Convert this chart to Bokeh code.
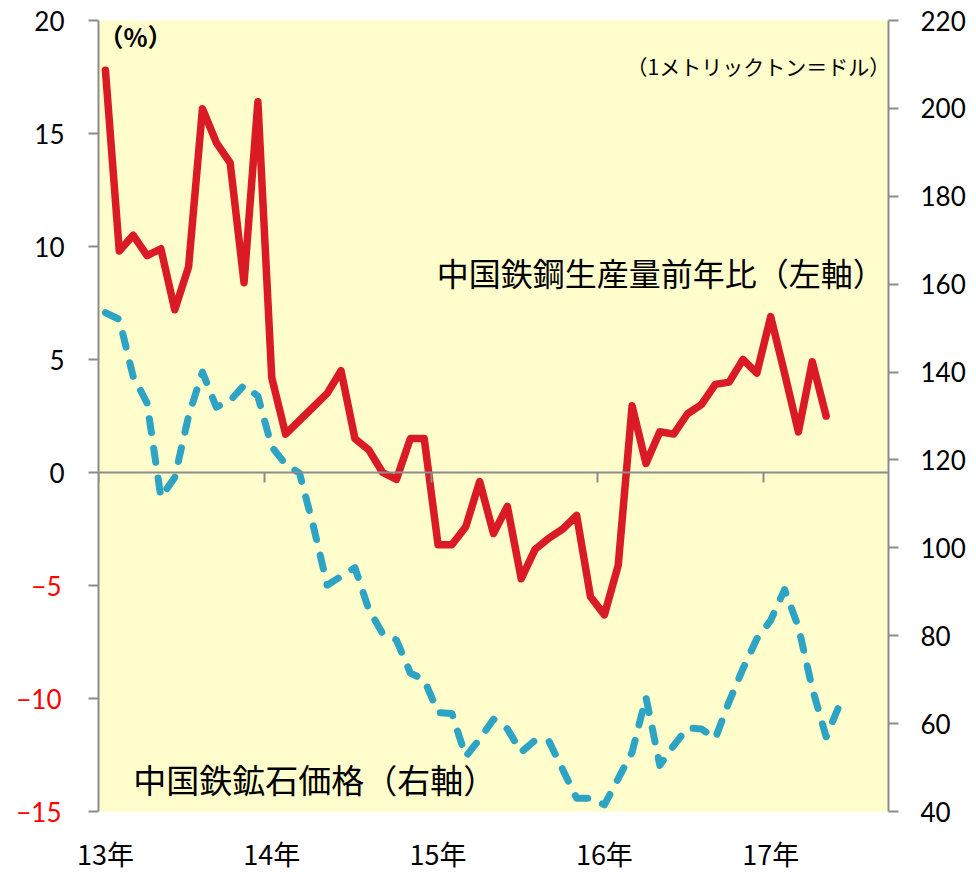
from bokeh.plotting import figure
from bokeh.models import Range1d, LinearAxis, FixedTicker, Label
from bokeh.embed import file_html
from bokeh.resources import INLINE

# ---- data ----
years = ["13年", "14年", "15年", "16年", "17年"]

# China crude steel production, YoY % (left axis), monthly from Jan 2013
steel_yoy = [17.8, 9.8, 10.5, 9.6, 9.9, 7.2, 9.1, 16.1, 14.6, 13.7, 8.4, 16.4,
             4.2, 1.7, 2.3, 2.9, 3.5, 4.5, 1.5, 1.0, 0.0, -0.3, 1.5, 1.5,
             -3.2, -3.2, -2.4, -0.4, -2.7, -1.5, -4.7, -3.4, -2.9, -2.5, -1.9, -5.5,
             -6.3, -4.1, 2.95, 0.4, 1.8, 1.7, 2.6, 3.0, 3.9, 4.0, 5.0, 4.4,
             6.9, 4.4, 1.8, 4.9, 2.5]

# China iron ore price, USD per metric ton (right axis), monthly from Jan 2013
ore_price = [153.5, 152, 139, 133, 111.5, 116, 130, 140, 132, 133.5, 137, 134.5,
             123, 119, 117, 105, 91.5, 93.5, 95.5, 86, 80.5, 79, 71.5, 70,
             62.5, 62.3, 52.5, 56.5, 61, 58.8, 53.5, 56.2, 56, 49.5, 43, 43,
             41.5, 47.5, 53.5, 66, 50.5, 55, 59, 58.8, 56.6, 65, 72.5, 79.3,
             83.5, 90.5, 82, 68, 57, 64.5]

left_ticks = [-15, -10, -5, 0, 5, 10, 15, 20]
right_ticks = [40, 60, 80, 100, 120, 140, 160, 180, 200, 220]

months_steel = list(range(len(steel_yoy)))
months_ore = list(range(len(ore_price)))
year_labels_at = [12 * i for i in range(len(years))]          # January of each year
year_bounds = [12 * i - 0.5 for i in range(len(years))]         # start of each year
X_START, X_END = -0.5, 56.5

GRAY = "#8C8C8C"
NUM_FONT = "Lato"
JP_FONT = "Noto Sans CJK JP"
TICK_OUT = 10
NUM_SIZE = "26px"
LABEL_W = 30   # width of a two-digit label ("20") at 26px Lato

p = figure(width=976, height=875,
           x_range=Range1d(X_START, X_END), y_range=Range1d(-15, 20),
           output_backend="svg", toolbar_location=None,
           min_border_left=98, min_border_right=88,
           min_border_top=20, min_border_bottom=62,
           background_fill_color="#FFFDCC", border_fill_color="white",
           outline_line_color=None)
p.grid.visible = False
p.extra_y_ranges = {"price": Range1d(40, 220)}

# bottom axis: year labels only
xa = p.xaxis[0]
xa.ticker = FixedTicker(ticks=year_labels_at)
xa.major_label_overrides = {t: y for t, y in zip(year_labels_at, years)}
xa.axis_line_color = None
xa.major_tick_line_color = None
xa.minor_tick_line_color = None
xa.major_tick_out = 0
xa.major_tick_in = 0
xa.major_label_standoff = 22
xa.major_label_text_font = JP_FONT
xa.major_label_text_font_size = "27px"
xa.major_label_text_color = "black"

# zero line axis with year ticks
zero_axis = LinearAxis(fixed_location=0, ticker=FixedTicker(ticks=year_bounds),
                       axis_line_color=GRAY, axis_line_width=2,
                       major_tick_line_color=GRAY, major_tick_line_width=2,
                       major_tick_out=TICK_OUT, major_tick_in=0,
                       minor_tick_line_color=None,
                       major_label_text_color=None, major_label_text_font_size="0px")
p.add_layout(zero_axis, "below")

# left axis (black labels for non-negative values)
ya = p.yaxis[0]
ya.ticker = FixedTicker(ticks=left_ticks)
ya.major_label_overrides = {t: "" for t in left_ticks if t < 0}
ya.axis_line_color = GRAY
ya.axis_line_width = 2
ya.major_tick_line_color = GRAY
ya.major_tick_line_width = 2
ya.major_tick_out = TICK_OUT
ya.major_tick_in = 0
ya.minor_tick_line_color = None
ya.major_label_standoff = 24
ya.major_label_text_font = NUM_FONT
ya.major_label_text_font_size = NUM_SIZE
ya.major_label_text_color = "black"

# outer left axis carrying the red labels of the negative ticks,
# pulled back (negative standoff) so they line up with the black ones
neg_axis = LinearAxis(ticker=FixedTicker(ticks=[t for t in left_ticks if t < 0]),
                      axis_line_color=None, major_tick_line_color=None,
                      minor_tick_line_color=None,
                      major_tick_out=0, major_tick_in=0,
                      major_label_standoff=-LABEL_W,
                      major_label_text_font=NUM_FONT,
                      major_label_text_font_size=NUM_SIZE,
                      major_label_text_color="#FF0000")
p.add_layout(neg_axis, "left")

# right axis
ra = LinearAxis(y_range_name="price", ticker=FixedTicker(ticks=right_ticks),
                axis_line_color=GRAY, axis_line_width=2,
                major_tick_line_color=GRAY, major_tick_line_width=2,
                major_tick_out=TICK_OUT, major_tick_in=0,
                minor_tick_line_color=None,
                major_label_standoff=22,
                major_label_text_font=NUM_FONT,
                major_label_text_font_size=NUM_SIZE,
                major_label_text_color="black")
p.add_layout(ra, "right")

# series
p.line(months_ore, ore_price, y_range_name="price", line_color="#2DA4C4",
       line_width=7, line_dash="14 16", line_cap="round", line_join="round")
p.line(months_steel, steel_yoy, line_color="#DA1A24", line_width=7.5,
       line_join="round", line_cap="round")

# annotations
p.add_layout(Label(x=-0.5, y=19.3, text="（%）", text_font=JP_FONT,
                   text_font_size="25px", text_font_style="bold",
                   text_align="left", text_baseline="middle", text_color="black"))
p.add_layout(Label(x=37.6, y=18.0, text="（1メトリックトン＝ドル）", text_font=JP_FONT,
                   text_font_size="21px", text_align="left", text_baseline="middle",
                   text_color="black"))
p.add_layout(Label(x=23.9, y=8.87, text="中国鉄鋼生産量前年比（左軸）", text_font=JP_FONT,
                   text_font_size="32px", text_align="left", text_baseline="middle",
                   text_color="black"))
p.add_layout(Label(x=2.0, y=-13.54, text="中国鉄鉱石価格（右軸）", text_font=JP_FONT,
                   text_font_size="33px", text_align="left", text_baseline="middle",
                   text_color="black"))

open("out.html", "w").write(file_html(p, INLINE))
